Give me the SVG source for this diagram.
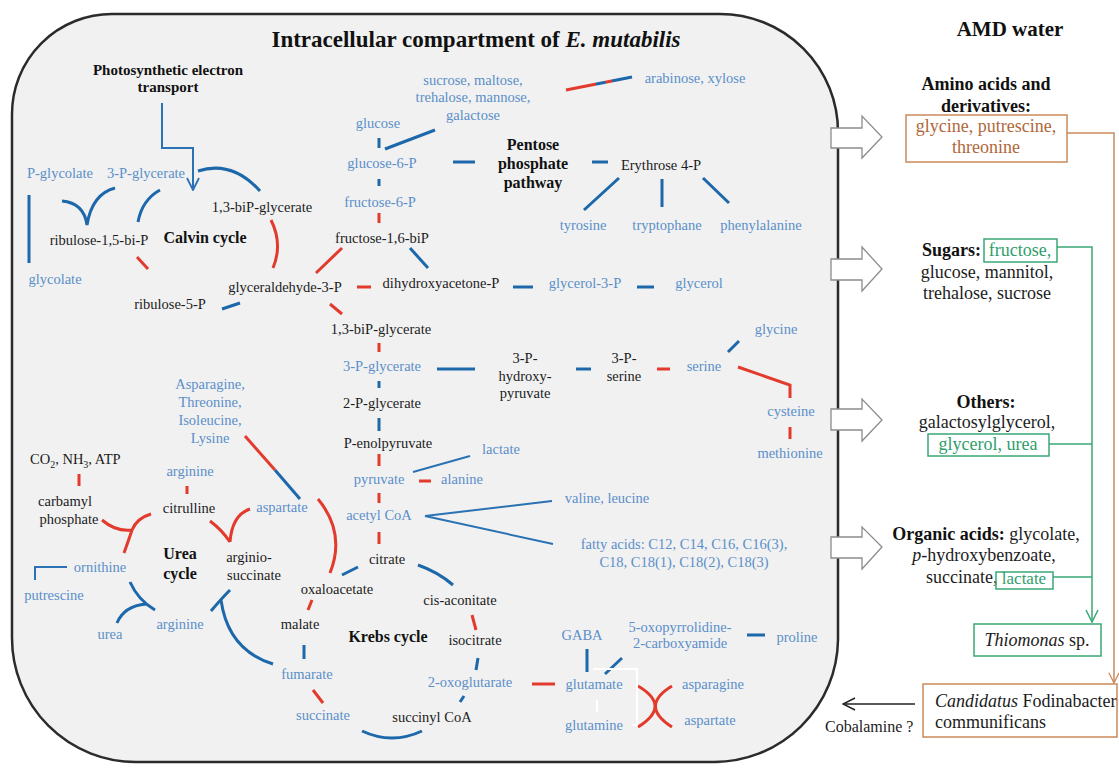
<svg xmlns="http://www.w3.org/2000/svg" width="1119" height="768" viewBox="0 0 1119 768" font-family="'Liberation Serif', 'Times New Roman', serif">
<defs>
<style>
text{font-family:"Liberation Serif","Times New Roman",serif}
.k{fill:#1c1c1c;font-size:14.5px}
.b{fill:#5b8fc9;font-size:14.5px}
.h{fill:#111;font-size:16px;font-weight:bold}
.r{fill:#1c1c1c;font-size:18px}
.rh{fill:#111;font-size:18px;font-weight:bold}
.o{fill:#b0683a;font-size:18px}
.g{fill:#2f9e6b;font-size:18px}
.bl{stroke:#1d68ab;stroke-width:3;fill:none}
.bt{stroke:#2a72b3;stroke-width:2;fill:none}
.rd{stroke:#e23a2c;stroke-width:3;fill:none}
.wh{stroke:#ffffff;stroke-width:2;fill:none}
.arw{fill:#ffffff;stroke:#8c8c8c;stroke-width:1.3}
.gb{fill:none;stroke:#3aa874;stroke-width:1.5}
.ob{fill:none;stroke:#c98a5a;stroke-width:1.5}
</style>
<linearGradient id="rb" x1="566" y1="90" x2="632" y2="77" gradientUnits="userSpaceOnUse">
<stop offset="0" stop-color="#e23a2c"/><stop offset="0.45" stop-color="#e23a2c"/><stop offset="0.45" stop-color="#1d68ab"/><stop offset="0.6" stop-color="#1d68ab"/><stop offset="0.6" stop-color="#e23a2c"/><stop offset="0.7" stop-color="#e23a2c"/><stop offset="0.7" stop-color="#1d68ab"/><stop offset="1" stop-color="#1d68ab"/>
</linearGradient>
<marker id="mB" viewBox="0 0 14 14" refX="13" refY="7" markerWidth="14" markerHeight="14" orient="auto" markerUnits="userSpaceOnUse"><path d="M1,1 L13,7 L1,13" fill="none" stroke="#2a72b3" stroke-width="1.8"/></marker>
<marker id="mG" viewBox="0 0 14 14" refX="13" refY="7" markerWidth="14" markerHeight="14" orient="auto" markerUnits="userSpaceOnUse"><path d="M1,1 L13,7 L1,13" fill="none" stroke="#3aa874" stroke-width="1.5"/></marker>
<marker id="mO" viewBox="0 0 14 14" refX="13" refY="7" markerWidth="12" markerHeight="12" orient="auto" markerUnits="userSpaceOnUse"><path d="M1,1 L13,7 L1,13" fill="none" stroke="#c98a5a" stroke-width="1.5"/></marker>
<marker id="mK" viewBox="0 0 14 14" refX="13" refY="7" markerWidth="14" markerHeight="14" orient="auto" markerUnits="userSpaceOnUse"><path d="M1,1 L13,7 L1,13" fill="none" stroke="#222" stroke-width="1.5"/></marker>
</defs>
<rect width="1119" height="768" fill="#ffffff"/>

<g id="compartment">
<path d="M112,14 H720 A118,118 0 0 1 838,132 V640 A124,124 0 0 1 714,762 H136 A124,124 0 0 1 12,638 V114 A100,100 0 0 1 112,14 Z" fill="#f1f1f1" stroke="#2b2b2b" stroke-width="2.5"/>
<text x="476" y="47" text-anchor="middle" style="font-size:23px;font-weight:bold;fill:#111">Intracellular compartment of <tspan font-style="italic">E. mutabilis</tspan></text>
</g>

<g id="export-arrows">
<path class="arw" d="M831,128 H862 V116 L882,137 L862,158 V148 H831 Z"/>
<path class="arw" d="M831,259 H862 V247 L882,269 L862,291 V280 H831 Z"/>
<path class="arw" d="M831,409 H862 V399 L882,420 L862,441 V430 H831 Z"/>
<path class="arw" d="M831,537 H862 V527 L882,547 L862,569 V558 H831 Z"/>
</g>

<g id="connectors">
<path class="bt" d="M162,103 V148 H193 V190" marker-end="url(#mB)"/>
<path class="bl" d="M198,171 Q232,160 260,191"/>
<path class="bl" d="M62,201 Q84,203 87,225 M115,188 Q92,194 87,225"/>
<path class="bl" d="M160,190 Q142,200 138,222"/>
<path class="bl" d="M29,195 V263"/>
<path class="bl" d="M222,309 L240,303"/>
<path class="bl" d="M379,138 V148"/>
<path class="bl" d="M385,149 L435,130"/>
<path class="bl" d="M453,162 H475"/>
<path class="bl" d="M379,179 V186"/>
<path class="bl" d="M410,248 L428,268"/>
<path class="bl" d="M592,162 H608"/>
<path class="bl" d="M619,178 L584,210 M662,179 V207 M703,178 L729,203"/>
<path class="bl" d="M513,287 H533"/>
<path class="bl" d="M637,287 H654"/>
<path class="bl" d="M437,369 H475"/>
<path class="bl" d="M576,369 H591"/>
<path class="bl" d="M728,352 L739,341"/>
<path class="bl" d="M379,381 V388"/>
<path class="bl" d="M379,418 V431"/>
<path class="bt" d="M413,472 L470,456"/>
<path class="bt" d="M425,516 L552,501 M425,516 L553,544"/>
<path class="bl" d="M342,575 L358,567"/>
<path class="bl" d="M418,565 Q438,572 453,585"/>
<path class="bl" d="M304,645 V659"/>
<path class="bl" d="M478,658 L476,670"/>
<path class="bl" d="M460,702 L464,696"/>
<path class="bl" d="M362,731 Q392,745 422,731"/>
<path class="bt" d="M67,567 H35 V580"/>
<path class="bl" d="M130,582 Q138,600 155,610 M117,623 Q124,606 146,604"/>
<path class="bl" d="M230,590 Q222,598 211,611 M221,600 Q228,650 273,664"/>
<path class="bl" d="M587,649 V672"/>
<path class="bl" d="M605,674 L622,658"/>
<path class="bl" d="M747,635 H765"/>
<path class="rd" d="M137,257 L148,269"/>
<path class="rd" d="M271,220 Q283,244 273,268"/>
<path class="rd" d="M342,248 L316,273"/>
<path class="rd" d="M379,213 V223"/>
<path class="rd" d="M357,287 H371"/>
<path class="rd" d="M330,304 L342,314"/>
<path class="rd" d="M379,343 V352"/>
<path class="rd" d="M379,454 V466"/>
<path class="rd" d="M419,481 H431"/>
<path class="rd" d="M379,493 V503"/>
<path class="rd" d="M379,532 V544"/>
<path class="rd" d="M657,369 H670"/>
<path class="rd" d="M738,367 L790,385 V398"/>
<path class="rd" d="M790,427 V439"/>
<path class="rd" d="M318,499 Q346,533 330,573"/>
<path class="rd" d="M308,610 L312,600"/>
<path class="rd" d="M472,615 L476,630"/>
<path class="rd" d="M313,690 L323,703"/>
<path class="rd" d="M532,684 H555"/>
<path class="rd" d="M79,474 V486"/>
<path class="rd" d="M187,486 V494"/>
<path class="rd" d="M102,520 Q116,532 132,530 M151,514 Q137,518 132,530 M132,530 Q128,542 124,553"/>
<path class="rd" d="M210,521 Q222,530 230,542 M250,509 Q232,515 230,542"/>
<path class="rd" d="M638,686 Q672,706 638,727 M672,686 Q639,706 672,727"/>
<path d="M566,90 L632,77" stroke="url(#rb)" stroke-width="3" fill="none"/>
<path class="rd" d="M245,436 L275,470"/>
<path class="bl" d="M275,470 L300,499"/>
<path class="wh" d="M593,669 H637 V725 H632 M597,700 V712"/>
<path class="ob" d="M1067,133 H1114 V683" marker-end="url(#mO)"/>
<path class="gb" d="M1057,247 H1092 V622" marker-end="url(#mG)"/>
<path class="gb" d="M1049,444 H1092 M1053,577 H1092"/>
<path d="M915,704 H843" stroke="#222" stroke-width="1.5" fill="none" marker-end="url(#mK)"/>
</g>

<g id="n-photo"><text x="168" y="75" text-anchor="middle" style="font-size:15px;font-weight:bold;fill:#111">Photosynthetic electron</text><text x="168" y="92" text-anchor="middle" style="font-size:15px;font-weight:bold;fill:#111">transport</text></g>
<g id="n-pglycolate"><text class="b" x="60" y="178" text-anchor="middle">P-glycolate</text></g>
<g id="n-3pg1"><text class="b" x="146" y="178" text-anchor="middle">3-P-glycerate</text></g>
<g id="n-glycolate"><text class="b" x="55" y="284" text-anchor="middle">glycolate</text></g>
<g id="n-rubp"><text class="k" x="99" y="245" text-anchor="middle">ribulose-1,5-bi-P</text></g>
<g id="n-calvin"><text class="h" x="205" y="243" text-anchor="middle">Calvin cycle</text></g>
<g id="n-13bpg1"><text class="k" x="262" y="212" text-anchor="middle">1,3-biP-glycerate</text></g>
<g id="n-ru5p"><text class="k" x="170" y="309" text-anchor="middle">ribulose-5-P</text></g>
<g id="n-gap"><text class="k" x="285" y="292" text-anchor="middle">glyceraldehyde-3-P</text></g>
<g id="n-sugars"><text class="b" x="473" y="85" text-anchor="middle">sucrose, maltose,</text><text class="b" x="473" y="102" text-anchor="middle">trehalose, mannose,</text><text class="b" x="473" y="120" text-anchor="middle">galactose</text></g>
<g id="n-arabinose"><text class="b" x="695" y="83" text-anchor="middle">arabinose, xylose</text></g>
<g id="n-glucose"><text class="b" x="378" y="128" text-anchor="middle">glucose</text></g>
<g id="n-g6p"><text class="b" x="382" y="168" text-anchor="middle">glucose-6-P</text></g>
<g id="n-ppp"><text class="h" x="533" y="150" text-anchor="middle">Pentose</text><text class="h" x="533" y="169" text-anchor="middle">phosphate</text><text class="h" x="533" y="188" text-anchor="middle">pathway</text></g>
<g id="n-e4p"><text class="k" x="661" y="170" text-anchor="middle">Erythrose 4-P</text></g>
<g id="n-tyr"><text class="b" x="583" y="230" text-anchor="middle">tyrosine</text></g>
<g id="n-trp"><text class="b" x="667" y="230" text-anchor="middle">tryptophane</text></g>
<g id="n-phe"><text class="b" x="761" y="230" text-anchor="middle">phenylalanine</text></g>
<g id="n-f6p"><text class="b" x="380" y="207" text-anchor="middle">fructose-6-P</text></g>
<g id="n-fbp"><text class="k" x="382" y="243" text-anchor="middle">fructose-1,6-biP</text></g>
<g id="n-dhap"><text class="k" x="441" y="288" text-anchor="middle">dihydroxyacetone-P</text></g>
<g id="n-g3p"><text class="b" x="585" y="288" text-anchor="middle">glycerol-3-P</text></g>
<g id="n-glycerol"><text class="b" x="699" y="288" text-anchor="middle">glycerol</text></g>
<g id="n-13bpg2"><text class="k" x="381" y="334" text-anchor="middle">1,3-biP-glycerate</text></g>
<g id="n-3pg2"><text class="b" x="382" y="371" text-anchor="middle">3-P-glycerate</text></g>
<g id="n-hpyr"><text class="k" x="525" y="363" text-anchor="middle">3-P-</text><text class="k" x="525" y="381" text-anchor="middle">hydroxy-</text><text class="k" x="525" y="398" text-anchor="middle">pyruvate</text></g>
<g id="n-pser"><text class="k" x="624" y="363" text-anchor="middle">3-P-</text><text class="k" x="624" y="381" text-anchor="middle">serine</text></g>
<g id="n-serine"><text class="b" x="704" y="371" text-anchor="middle">serine</text></g>
<g id="n-glycine"><text class="b" x="776" y="334" text-anchor="middle">glycine</text></g>
<g id="n-cys"><text class="b" x="791" y="416" text-anchor="middle">cysteine</text></g>
<g id="n-met"><text class="b" x="790" y="458" text-anchor="middle">methionine</text></g>
<g id="n-2pg"><text class="k" x="382" y="408" text-anchor="middle">2-P-glycerate</text></g>
<g id="n-pep"><text class="k" x="388" y="448" text-anchor="middle">P-enolpyruvate</text></g>
<g id="n-lactate"><text class="b" x="501" y="454" text-anchor="middle">lactate</text></g>
<g id="n-pyruvate"><text class="b" x="379" y="484" text-anchor="middle">pyruvate</text></g>
<g id="n-alanine"><text class="b" x="462" y="484" text-anchor="middle">alanine</text></g>
<g id="n-asnlist"><text class="b" x="210" y="389" text-anchor="middle">Asparagine,</text><text class="b" x="210" y="407" text-anchor="middle">Threonine,</text><text class="b" x="210" y="425" text-anchor="middle">Isoleucine,</text><text class="b" x="210" y="443" text-anchor="middle">Lysine</text></g>
<g id="n-co2"><text class="k" x="30" y="464">CO<tspan font-size="10" dy="4">2</tspan><tspan dy="-4">, NH</tspan><tspan font-size="10" dy="4">3</tspan><tspan dy="-4">, ATP</tspan></text></g>
<g id="n-arg1"><text class="b" x="190" y="476" text-anchor="middle">arginine</text></g>
<g id="n-carbp"><text class="k" x="65" y="506" text-anchor="middle">carbamyl</text><text class="k" x="69" y="524" text-anchor="middle">phosphate</text></g>
<g id="n-citrulline"><text class="k" x="189" y="513" text-anchor="middle">citrulline</text></g>
<g id="n-asp1"><text class="b" x="282" y="512" text-anchor="middle">aspartate</text></g>
<g id="n-orn"><text class="b" x="100" y="572" text-anchor="middle">ornithine</text></g>
<g id="n-putr"><text class="b" x="54" y="600" text-anchor="middle">putrescine</text></g>
<g id="n-ureacycle"><text class="h" x="180" y="559" text-anchor="middle">Urea</text><text class="h" x="180" y="579" text-anchor="middle">cycle</text></g>
<g id="n-argsucc"><text class="k" x="249" y="562" text-anchor="middle">arginio-</text><text class="k" x="254" y="580" text-anchor="middle">succinate</text></g>
<g id="n-urea"><text class="b" x="110" y="639" text-anchor="middle">urea</text></g>
<g id="n-arg2"><text class="b" x="180" y="629" text-anchor="middle">arginine</text></g>
<g id="n-acoa"><text class="b" x="379" y="520" text-anchor="middle">acetyl CoA</text></g>
<g id="n-valleu"><text class="b" x="607" y="503" text-anchor="middle">valine, leucine</text></g>
<g id="n-fatty"><text class="b" x="684" y="549" text-anchor="middle">fatty acids:  C12, C14, C16, C16(3),</text><text class="b" x="684" y="567" text-anchor="middle">C18, C18(1), C18(2), C18(3)</text></g>
<g id="n-citrate"><text class="k" x="387" y="564" text-anchor="middle">citrate</text></g>
<g id="n-oaa"><text class="k" x="337" y="594" text-anchor="middle">oxaloacetate</text></g>
<g id="n-cisacon"><text class="k" x="460" y="605" text-anchor="middle">cis-aconitate</text></g>
<g id="n-malate"><text class="k" x="300" y="629" text-anchor="middle">malate</text></g>
<g id="n-krebs"><text class="h" x="388" y="642" text-anchor="middle">Krebs cycle</text></g>
<g id="n-isocit"><text class="k" x="475" y="645" text-anchor="middle">isocitrate</text></g>
<g id="n-fumarate"><text class="b" x="307" y="679" text-anchor="middle">fumarate</text></g>
<g id="n-2og"><text class="b" x="470" y="687" text-anchor="middle">2-oxoglutarate</text></g>
<g id="n-succinate"><text class="b" x="323" y="720" text-anchor="middle">succinate</text></g>
<g id="n-succoa"><text class="k" x="432" y="722" text-anchor="middle">succinyl CoA</text></g>
<g id="n-gaba"><text class="b" x="582" y="640" text-anchor="middle">GABA</text></g>
<g id="n-oxopyr"><text class="b" x="680" y="632" text-anchor="middle">5-oxopyrrolidine-</text><text class="b" x="680" y="648" text-anchor="middle">2-carboxyamide</text></g>
<g id="n-proline"><text class="b" x="797" y="642" text-anchor="middle">proline</text></g>
<g id="n-glu"><text class="b" x="594" y="689" text-anchor="middle">glutamate</text></g>
<g id="n-gln"><text class="b" x="594" y="730" text-anchor="middle">glutamine</text></g>
<g id="n-asn"><text class="b" x="713" y="689" text-anchor="middle">asparagine</text></g>
<g id="n-asp2"><text class="b" x="710" y="725" text-anchor="middle">aspartate</text></g>

<g id="n-amd"><text x="1010" y="36" text-anchor="middle" style="font-size:21px;font-weight:bold;fill:#111">AMD water</text></g>
<g id="n-amino"><text class="rh" x="986" y="90" text-anchor="middle">Amino acids and</text><text class="rh" x="986" y="112" text-anchor="middle">derivatives:</text><rect class="ob" x="906" y="115" width="161" height="47"/><text class="o" x="986" y="132" text-anchor="middle">glycine, putrescine,</text><text class="o" x="986" y="153" text-anchor="middle">threonine</text></g>
<g id="n-sugarsout"><text class="rh" x="922" y="256">Sugars:</text><rect class="gb" x="984" y="239" width="73" height="23"/><text class="g" x="1020" y="256" text-anchor="middle">fructose,</text><text class="r" x="987" y="278" text-anchor="middle">glucose, mannitol,</text><text class="r" x="987" y="299" text-anchor="middle">trehalose, sucrose</text></g>
<g id="n-others"><text class="rh" x="986" y="408" text-anchor="middle">Others:</text><text class="r" x="987" y="428" text-anchor="middle">galactosylglycerol,</text><rect class="gb" x="928" y="434" width="121" height="22"/><text class="g" x="988" y="450" text-anchor="middle">glycerol, urea</text></g>
<g id="n-organic"><text class="r" x="986" y="540" text-anchor="middle"><tspan font-weight="bold" fill="#111">Organic acids:</tspan> glycolate,</text><text class="r" x="984" y="561" text-anchor="middle"><tspan font-style="italic">p</tspan>-hydroxybenzoate,</text><text class="r" x="926" y="583">succinate,</text><rect class="gb" x="996" y="572" width="57" height="17"/><text class="g" x="1024" y="584" text-anchor="middle" style="font-size:17px">lactate</text></g>
<g id="n-thiomonas"><rect class="gb" x="974" y="624" width="127" height="32"/><text class="r" x="1037" y="646" text-anchor="middle"><tspan font-style="italic">Thiomonas</tspan> sp.</text></g>
<g id="n-candidatus"><rect class="ob" x="923" y="684" width="194" height="53"/><text class="r" x="935" y="707"><tspan font-style="italic">Candidatus</tspan> Fodinabacter</text><text class="r" x="935" y="728">communificans</text></g>
<g id="n-cobalamine"><text x="825" y="732" style="font-size:16px;fill:#1c1c1c">Cobalamine ?</text></g>
</svg>
